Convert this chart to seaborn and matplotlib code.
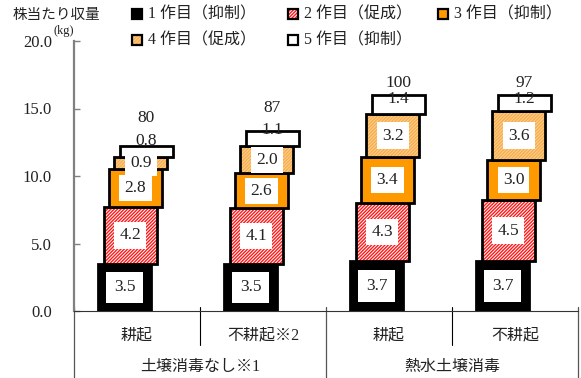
import numpy as np
import pandas as pd
import matplotlib
matplotlib.use("Agg")
import matplotlib.pyplot as plt
import seaborn as sns
from matplotlib.patches import Rectangle

# ---------------- data ----------------
categories = ['耕起', '不耕起※2', '耕起', '不耕起']
groups = ['土壌消毒なし※1', '熱水土壌消毒']
series = ['1 作目（抑制）', '2 作目（促成）', '3 作目（抑制）', '4 作目（促成）', '5 作目（抑制）']
crop1 = [3.5, 3.5, 3.7, 3.7]
crop2 = [4.2, 4.1, 4.3, 4.5]
crop3 = [2.8, 2.6, 3.4, 3.0]
crop4 = [0.9, 2.0, 3.2, 3.6]
crop5 = [0.8, 1.1, 1.4, 1.2]
index_pct = [80, 87, 100, 97]
yticks = [0, 5, 10, 15, 20]
ytick_labels = ['0.0', '5.0', '10.0', '15.0', '20.0']

# ---------------- styles / layout ----------------
fills = ['#000000', '#FFFFFF', '#FF9900', '#FFD090', '#FFFFFF']
hatches = [None, '//////////', None, '//////////', None]
hatch_colors = [None, '#FF1A1A', None, '#F5AE50', None]
seg_step = 0.043
seg_base = -0.012
bar_w = 0.42
seg5_label_dy = [0.4, 0.1, -0.3, -0.3]
total_label_dy = [2.13, 1.77, 0.88, 0.88]

W, H = 581, 378
sns.set_theme(style='white')
plt.rcParams['font.family'] = ['Liberation Serif', 'Noto Sans CJK JP', 'DejaVu Sans']
plt.rcParams['hatch.linewidth'] = 1.0

fig = plt.figure(figsize=(W / 100, H / 100), dpi=100)
ax = fig.add_axes([74 / W, 67 / H, 504 / W, 270 / H])

values = [crop1, crop2, crop3, crop4, crop5]
xs = np.arange(len(categories))
bottoms = np.zeros(len(categories))
offsets = [(i - 2) * seg_step + seg_base for i in range(5)]

label_info = []
for i, vals in enumerate(values):
    vals = np.array(vals, dtype=float)
    df = pd.DataFrame({'x': xs + offsets[i], 'y': vals})
    common = dict(data=df, x='x', y='y', native_scale=True, orient='x',
                  width=bar_w, errorbar=None, bottom=bottoms.copy(), ax=ax,
                  color=fills[i], saturation=1)
    if hatches[i]:
        sns.barplot(**common, facecolor=fills[i], edgecolor=hatch_colors[i],
                    hatch=hatches[i], linewidth=0, zorder=2 + i)
        sns.barplot(**common, facecolor='none', edgecolor='black',
                    linewidth=2, zorder=2 + i)
    else:
        sns.barplot(**common, facecolor=fills[i], edgecolor='black',
                    linewidth=2, zorder=2 + i)
    label_info.append((xs + offsets[i], bottoms + vals / 2, vals))
    bottoms = bottoms + vals

tops = bottoms.copy()

# segment labels
for i, (lx, ly, vals) in enumerate(label_info):
    for j in range(len(categories)):
        txt = f'{vals[j]:.1f}'
        if i < 4:
            pad = 0.45 if i == 0 else 0.3
            ax.text(lx[j], ly[j], txt, ha='center', va='center', fontsize=12.5,
                    family=['Liberation Serif'], color='#222222', zorder=20,
                    bbox=dict(boxstyle=f'square,pad={pad}', fc='white', ec='none'))
        else:
            ax.text(lx[j], tops[j] + seg5_label_dy[j], txt, ha='center', va='center',
                    fontsize=12.5, family=['Liberation Serif'], color='#222222', zorder=21)

# totals (index)
for j in range(len(categories)):
    ax.text(xs[j] + offsets[4], tops[j] + total_label_dy[j], str(index_pct[j]),
            ha='center', va='center', fontsize=12.5, family=['Liberation Serif'],
            color='#222222', zorder=21)

# axes
ax.set_xlim(-0.5, len(categories) - 0.5)
ax.set_ylim(0, 20)
ax.set_xlabel('')
ax.set_ylabel('')
ax.set_xticks([])
ax.set_yticks(yticks)
ax.set_yticklabels(ytick_labels, family=['Liberation Serif'], fontsize=12, color='#222222')
ax.tick_params(axis='y', direction='in', length=4, width=1, color='#808080', pad=16, left=True)
for s in ['top', 'right']:
    ax.spines[s].set_visible(False)
ax.spines['left'].set_color('#808080')
ax.spines['left'].set_linewidth(1.6)
ax.spines['bottom'].set_color('#333333')
ax.spines['bottom'].set_linewidth(0.8)
ax.set_facecolor('white')

# category axis lines
tr = ax.get_xaxis_transform()
def fy(p):
    return (311 - p) / 270.0

for xb in [0.5, 2.5]:
    ax.plot([xb, xb], [fy(307), fy(345)], transform=tr, color='black', lw=0.8, clip_on=False)
for xb in [-0.5, 1.5, 3.5]:
    ax.plot([xb, xb], [fy(307), fy(378)], transform=tr, color='#555555', lw=0.9, clip_on=False)

for j, c in enumerate(categories):
    ax.text(j, fy(335), c, transform=tr, ha='center', va='center', fontsize=11.5,
            family=['Liberation Serif', 'Noto Sans CJK JP'], color='#222222')
for g, name in enumerate(groups):
    ax.text(2 * g + 0.5, fy(367), name, transform=tr, ha='center', va='center', fontsize=11.5,
            family=['Liberation Serif', 'Noto Sans CJK JP'], color='#222222')

# top-left title and unit
fig.text(13 / W, 1 - 15 / H, '株当たり収量', ha='left', va='center', fontsize=10.5,
         family=['Noto Sans CJK JP'], color='#222222')
fig.text(53 / W, 1 - 31 / H, '(kg)', ha='left', va='center', fontsize=9,
         family=['Liberation Serif'], color='#222222')

# legend (manual)
leg_pos = [(137, 14), (293, 14), (443, 14), (137, 40), (293, 40)]
ms = 10
for i, (px, py) in enumerate(leg_pos):
    if hatches[i]:
        fig.patches.append(Rectangle(((px - ms / 2) / W, 1 - (py + ms / 2) / H), ms / W, ms / H,
                                     transform=fig.transFigure, facecolor=fills[i],
                                     edgecolor=hatch_colors[i], hatch=hatches[i], linewidth=0))
    fig.patches.append(Rectangle(((px - ms / 2) / W, 1 - (py + ms / 2) / H), ms / W, ms / H,
                                 transform=fig.transFigure,
                                 facecolor=('none' if hatches[i] else fills[i]),
                                 edgecolor='black', linewidth=1.6))
    fig.text((px + 11) / W, 1 - py / H, series[i], ha='left', va='center', fontsize=11.5,
             family=['Liberation Serif', 'Noto Sans CJK JP'], color='#222222')

fig.savefig('out.png', dpi=100, facecolor='white')
